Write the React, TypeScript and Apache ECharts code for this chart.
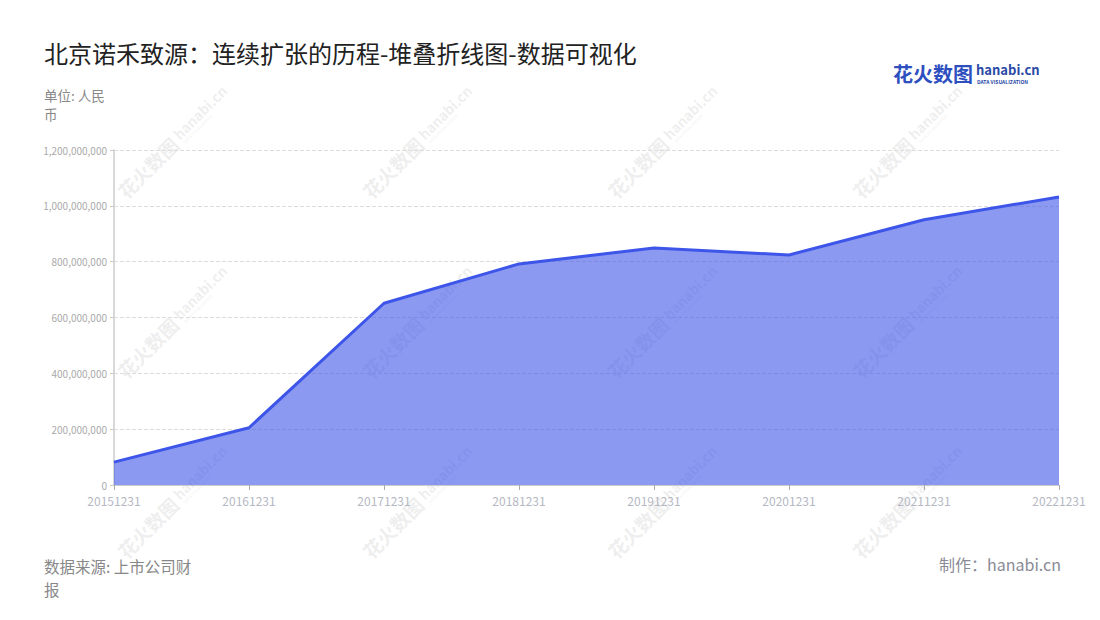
import React, { useEffect, useRef } from "react";
import * as echarts from "echarts";

const categories = ["20151231", "20161231", "20171231", "20181231", "20191231", "20201231", "20211231", "20221231"];
const values = [82000000, 205000000, 651000000, 792000000, 849000000, 824000000, 950000000, 1032000000];
const yTicks = { min: 0, max: 1200000000, interval: 200000000 };
const titleText = "北京诺禾致源：连续扩张的历程-堆叠折线图-数据可视化";
const unitLines = ["单位: 人民", "币"];
const sourceLines = ["数据来源: 上市公司财", "报"];
const makerText = "制作：hanabi.cn";
const wmCols = [180, 425, 670, 915];
const wmRows = [135, 315, 495];

const FONT = "'Noto Sans CJK SC', 'Noto Sans', sans-serif";
const WM = "rgba(190,190,190,0.25)";

export default function App() {
  const ref = useRef<HTMLDivElement>(null);
  useEffect(() => {
    if (!ref.current) return;
    const chart = echarts.init(ref.current, undefined, { renderer: "svg" });
    const watermarks: any[] = [];
    wmRows.forEach((y) =>
      wmCols.forEach((x) => {
        watermarks.push({
          type: "group",
          x,
          y,
          rotation: Math.PI / 4,
          z: 100,
          silent: true,
          children: [
            {
              type: "text",
              x: -8,
              y: 0,
              style: { text: "花火数图", font: `bold 19px ${FONT}`, fill: WM, align: "right", verticalAlign: "middle" },
            },
            {
              type: "text",
              x: -4,
              y: -2,
              style: { text: "hanabi.cn", font: `bold 14px ${FONT}`, fill: WM, align: "left", verticalAlign: "middle" },
            },
            {
              type: "text",
              x: -2,
              y: 8,
              style: { text: "DATA VISUALIZATION", font: `4px ${FONT}`, fill: WM, align: "left", verticalAlign: "middle" },
            },
          ],
        });
      })
    );
    const unitTexts = unitLines.map((t, i) => ({
      type: "text",
      x: 44,
      y: 95 + i * 19,
      style: { text: t, font: `13.5px ${FONT}`, fill: "#888888", verticalAlign: "middle" },
    }));
    const sourceTexts = sourceLines.map((t, i) => ({
      type: "text",
      x: 44,
      y: 566 + i * 23,
      style: { text: t, font: `15.5px ${FONT}`, fill: "#888888", verticalAlign: "middle" },
    }));
    chart.setOption({
      animation: false,
      backgroundColor: "#ffffff",
      title: {
        text: titleText,
        left: 39,
        top: 35,
        textStyle: { fontFamily: FONT, fontSize: 24, fontWeight: "normal", color: "#222222" },
      },
      grid: { left: 114, right: 41, top: 150, bottom: 135 },
      xAxis: {
        type: "category",
        data: categories,
        boundaryGap: false,
        axisLine: { lineStyle: { color: "#cccccc" } },
        axisTick: { show: true, lineStyle: { color: "#aaaaaa" } },
        axisLabel: { color: "#b5b8c3", fontSize: 12, fontFamily: FONT, margin: 9, interval: 0 },
      },
      yAxis: {
        type: "value",
        min: yTicks.min,
        max: yTicks.max,
        interval: yTicks.interval,
        axisLine: { show: true, lineStyle: { color: "#cccccc", width: 1.5 } },
        axisTick: { show: true, length: 4, lineStyle: { color: "#cccccc" } },
        axisLabel: {
          color: "#aaaaaa",
          fontSize: 10,
          fontFamily: FONT,
          margin: 7,
          formatter: (v: number) => v.toLocaleString("en-US"),
        },
        splitLine: { lineStyle: { type: "dashed", color: "#dddddd" } },
      },
      series: [
        {
          type: "line",
          data: values,
          symbol: "none",
          lineStyle: { color: "#3d55e8", width: 3 },
          areaStyle: { color: "#3d55e8", opacity: 0.6 },
          z: 2,
        },
      ],
      graphic: [
        ...unitTexts,
        ...sourceTexts,
        {
          type: "text",
          right: 39,
          top: 556,
          style: { text: makerText, font: `16px ${FONT}`, fill: "#8a8a96" },
        },
        {
          type: "text",
          left: 893,
          top: 63,
          style: { text: "花火数图", font: `bold 20px ${FONT}`, fill: "#2d4fbf" },
        },
        {
          type: "text",
          left: 976,
          top: 63,
          style: { text: "hanabi.cn", font: `bold 13px ${FONT}`, fill: "#2a4aa6" },
        },
        {
          type: "text",
          left: 977,
          top: 79,
          style: { text: "DATA VISUALIZATION", font: `bold 5px ${FONT}`, fill: "#2a4aa6" },
        },
        ...watermarks,
      ],
    });
    return () => chart.dispose();
  }, []);
  return <div ref={ref} style={{ position: "fixed", left: 0, top: 0, width: 1100, height: 620 }} />;
}
